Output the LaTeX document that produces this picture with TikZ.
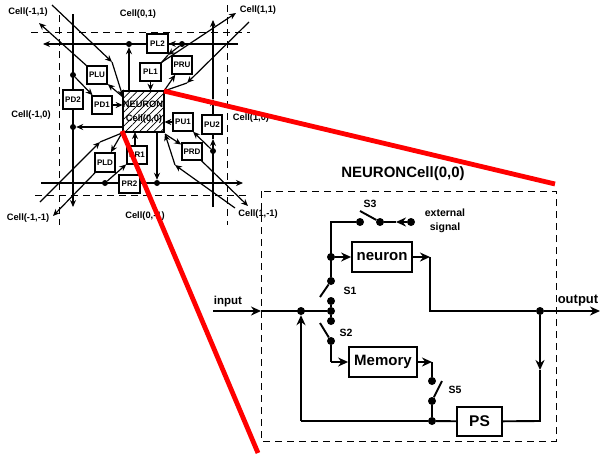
\documentclass[tikz,border=0pt]{standalone}
\usepackage{fontspec}
\setmainfont{Liberation Sans}
\usetikzlibrary{arrows.meta,patterns.meta,backgrounds}
\tikzset{
  x=1pt,y=-1pt,
  cellframe/.style={draw=black,line width=1pt,dash pattern=on 7pt off 5pt},
  sl/.style={draw=black,line width=1.2pt},
  sa/.style={sl,-{Stealth[length=7pt,width=6pt]}},
  sbox/.style={draw=black,fill=white,line width=1.5pt,inner sep=0pt,font=\bfseries\fontsize{8}{8}\selectfont},
  sdot/.style={circle,fill=black,inner sep=0pt,minimum size=6pt},
  bl/.style={draw=black,line width=1.9pt},
  ba/.style={bl,-{Stealth[length=10pt,width=9pt]}},
  bbox/.style={draw=black,fill=white,line width=1.8pt,inner sep=0pt,font=\bfseries\fontsize{15}{15}\selectfont},
  bdot/.style={circle,fill=black,inner sep=0pt,minimum size=8pt},
  cl/.style={font=\bfseries\fontsize{9.3}{9.3}\selectfont},
  tl/.style={font=\bfseries\fontsize{10.5}{14}\selectfont,align=center},
  redline/.style={draw=red,line width=4.8pt},
}
\begin{document}
\begin{tikzpicture}
\useasboundingbox (0,0) rectangle (600,455);
% small boxes
\node[sbox,minimum width=21pt,minimum height=19pt] (PL2) at (157.5,43.5) {PL2};
\node[sbox,minimum width=21pt,minimum height=18pt] (PL1) at (150.5,72) {PL1};
\node[sbox,minimum width=20pt,minimum height=18pt] (PRU) at (182,65) {PRU};
\node[sbox,minimum width=20pt,minimum height=18pt] (PLU) at (97,75) {PLU};
\node[sbox,minimum width=20pt,minimum height=19pt] (PD2) at (73,99.5) {PD2};
\node[sbox,minimum width=20pt,minimum height=18pt] (PD1) at (102,105) {PD1};
\node[sbox,minimum width=20pt,minimum height=18pt] (PU1) at (183,122) {PU1};
\node[sbox,minimum width=20pt,minimum height=19pt] (PU2) at (212,124.5) {PU2};
\node[sbox,minimum width=20pt,minimum height=17pt] (PRD) at (192,151.5) {PRD};
\node[sbox,minimum width=20pt,minimum height=19pt] (PLD) at (105,162.5) {PLD};
\node[sbox,minimum width=20pt,minimum height=18pt] (PR1) at (137,155) {PR1};
\node[sbox,minimum width=21pt,minimum height=18pt] (PR2) at (129.5,184) {PR2};
\node[draw=black,line width=1.5pt,fill=white,minimum width=41pt,minimum height=41pt,inner sep=0pt] (cellbg) at (143.5,111.5) {};
\node[draw=black,line width=1.5pt,pattern={Lines[angle=45,distance=5pt,line width=0.7pt]},minimum width=41pt,minimum height=41pt,inner sep=0pt] (N) at (143.5,111.5) {};
\node[cl] (ntxt) at (143,104) {NEURON};
\node[cl] (ctxt) at (144,119) {Cell(0,0)};
% small dots
\node[sdot] (d1) at (129,44) {};
\node[sdot] (d2) at (182,44) {};
\node[sdot] (d3) at (73,75) {};
\node[sdot] (d4) at (73,127) {};
\node[sdot] (d5) at (105,183) {};
\node[sdot] (d6) at (157,183) {};
\node[sdot] (d7) at (213,151) {};
% free ends
\coordinate (hL) at (43,44); \coordinate (hR) at (238,44);
\coordinate (bL) at (41,183); \coordinate (bR) at (243,183);
\coordinate (vLt) at (73,14); \coordinate (vLb) at (73,207);
\coordinate (vRt) at (213,20); \coordinate (vRb) at (213,207);
\coordinate (vRm) at (213,99); \coordinate (vRn) at (213,139);
\coordinate (tlA) at (52,5); \coordinate (tlB) at (112,62);
\coordinate (tlE) at (39,23);
\coordinate (blA) at (40,202); \coordinate (blB) at (100,142);
\coordinate (blE) at (53,216);
\coordinate (trA) at (249,22); \coordinate (trB) at (187,83);
\coordinate (trE) at (236,13);
\coordinate (mpl) at (168,55);
\coordinate (brA) at (235,208); \coordinate (brB) at (175,165);
\coordinate (brE) at (248,206);
\coordinate (cTL) at (123,97); \coordinate (cTR) at (164,91);
\coordinate (cBL) at (122,133); \coordinate (cBR) at (165,134);
\coordinate (prn) at (135,146); \coordinate (pre) at (135,132);
% big
\node[bbox,minimum width=60pt,minimum height=30pt] (neuron) at (382,257) {neuron};
\node[bbox,minimum width=68pt,minimum height=30pt] (mem) at (383,362) {Memory};
\node[bbox,minimum width=45pt,minimum height=29pt,font=\bfseries\fontsize{15.5}{15.5}\selectfont] (PS) at (479.5,421.5) {PS};
\node[bdot] (a1) at (301,311) {};
\node[bdot] (a2) at (331,311) {};
\node[bdot] (s1a) at (331,301) {};
\node[bdot] (s1b) at (331,281) {};
\node[bdot] (jn) at (331,257) {};
\node[bdot] (s3a) at (360,222) {};
\node[bdot] (s3b) at (380,222) {};
\node[bdot] (s3c) at (411,222) {};
\node[bdot] (s2a) at (331,321) {};
\node[bdot] (s2b) at (331,341) {};
\node[bdot] (s5a) at (432,381) {};
\node[bdot] (s5b) at (432,401) {};
\node[bdot] (a3) at (432,421) {};
\node[bdot] (a4) at (540,311) {};
\coordinate (inS) at (213,311); \coordinate (inE) at (261,311);
\coordinate (outE) at (600,311);
\coordinate (c1) at (331,222);
\coordinate (c2) at (430,257); \coordinate (c3) at (430,311);
\coordinate (c4) at (331,362);
\coordinate (c5) at (432,362);
\coordinate (c6) at (540,421); \coordinate (c6m) at (540,370);
\coordinate (c7) at (301,421);
\coordinate (s1t) at (320,297);
\coordinate (s2t) at (320,323);
\coordinate (s3t) at (360,211);
\coordinate (s5t) at (442,381);
\coordinate (s3m) at (396,222);
\begin{scope}[on background layer]
% cell frames
\draw[cellframe] (59,15) -- (59,225);
\draw[cellframe] (227,5) -- (227,225);
\draw[cellframe] (31,32) -- (250,32);
\draw[cellframe] (35,195) -- (250,195);
% small connectors
\draw[sa] (hR) -- (hL);
\draw[sa] (N.north -| d1) -- (d1);
\draw[sa] (d2) -- (PL2);
\draw[sa] (tlA) -- (tlB);
\draw[sa] (tlB) -- (cTL);
\draw[sa] (PLU) -- (tlE);
\draw[sa] (cTL) -- (PLU);
\draw[sa] (vLt) -- (vLb);
\draw[sa] (d3) -- (PD1);
\draw[sa] (PD1) -- (PD1 -| N.west);
\draw[sa] (N.west |- d4) -- (d4);
\draw[sa] (blA) -- (blB);
\draw[sl] (blB) -- (cBL);
\draw[sa] (PLD) -- (blE);
\draw[sa] (cBL) -- (PLD);
\draw[sa] (bL) -- (bR);
\draw[sa] (N.south -| d6) -- (d6);
\draw[sa] (d5) -- (PR1);
\draw[sa] (prn) -- (pre);
\draw[sa] (PU1) -- (PU1 -| N.east);
\draw[sa] (d7) -- (PU1);
\draw[sa] (vRb) -- (vRn);
\draw[sa] (vRn) -- (vRm);
\draw[sa] (vRm) -- (vRt);
\draw[sa] (cBR) -- (PRD);
\draw[sa] (PRD) -- (brE);
\draw[sa] (brA) -- (brB);
\draw[sa] (brB) -- (cBR);
\draw[sa] (cTR) -- (PRU);
\draw[sa] (trA) -- (trB);
\draw[sl] (trB) -- (cTR);
\draw[sa] (d2) -- (mpl);
\draw[sl] (mpl) -- (PL1.north east);
\draw[sa] (PL1.north east) -- (trE);
\draw[sa] (PL1) -- (PL1 |- N.north);
% big frame
\draw[cellframe] (261,191) rectangle (556,441);
% big connectors
\draw[ba] (inS) -- (inE);
\draw[bl] (inE) -- (a2);
\draw[ba] (c7) -- (a1);
\draw[bl] (a2) -- (s2a);
\draw[bl] (a2) -- (s1a);
\draw[bl] (s1b) -- (s1t);
\draw[bl] (s2b) -- (s2t);
\draw[bl] (s1b) -- (c1) -- (s3a);
\draw[bl] (s3b) -- (s3t);
\draw[ba] (s3c) -- (s3m);
\draw[bl] (s3m) -- (s3b);
\draw[ba] (jn) -- (neuron);
\draw[ba] (neuron) -- (c2);
\draw[bl] (c2) -- (c3) -- (a4);
\draw[ba] (a4) -- (outE);
\draw[ba] (a4) -- (c6m);
\draw[bl] (c6m) -- (c6) -- (PS);
\draw[bl] (PS) -- (a3) -- (c7);
\draw[bl] (s2b) -- (c4);
\draw[ba] (c4) -- (mem);
\draw[ba] (mem) -- (c5);
\draw[bl] (c5) -- (s5a);
\draw[bl] (s5b) -- (s5t);
\draw[bl] (s5b) -- (a3);
\end{scope}
% labels
\node[cl] (l1) at (28,12) {Cell(-1,1)};
\node[cl] (l2) at (138,14) {Cell(0,1)};
\node[cl] (l3) at (258,10) {Cell(1,1)};
\node[cl] (l4) at (31,115) {Cell(-1,0)};
\node[cl] (l5) at (251,118) {Cell(1,0)};
\node[cl] (l6) at (28,218) {Cell(-1,-1)};
\node[cl] (l7) at (145,216) {Cell(0,-1)};
\node[cl] (l8) at (258,214) {Cell(1,-1)};
\node[font=\bfseries\fontsize{15}{15}\selectfont] (title) at (403,174) {NEURONCell(0,0)};
\node[font=\bfseries\fontsize{11.5}{12}\selectfont] (in) at (228,302) {input};
\node[font=\bfseries\fontsize{13}{13}\selectfont] (out) at (578,301) {output};
\node[tl] (S3) at (370,204) {S3};
\node[tl] (S1) at (350,291) {S1};
\node[tl] (S2) at (346,333) {S2};
\node[tl] (S5) at (455,390) {S5};
\node[tl] (ext) at (445,221) {external\\signal};
% red
\coordinate (r0) at (164,91); \coordinate (r1) at (555,184);
\coordinate (r2) at (122,131); \coordinate (r3) at (258,453);
\draw[redline] (r0) -- (r1);
\draw[redline] (r2) -- (r3);
\end{tikzpicture}
\end{document}
